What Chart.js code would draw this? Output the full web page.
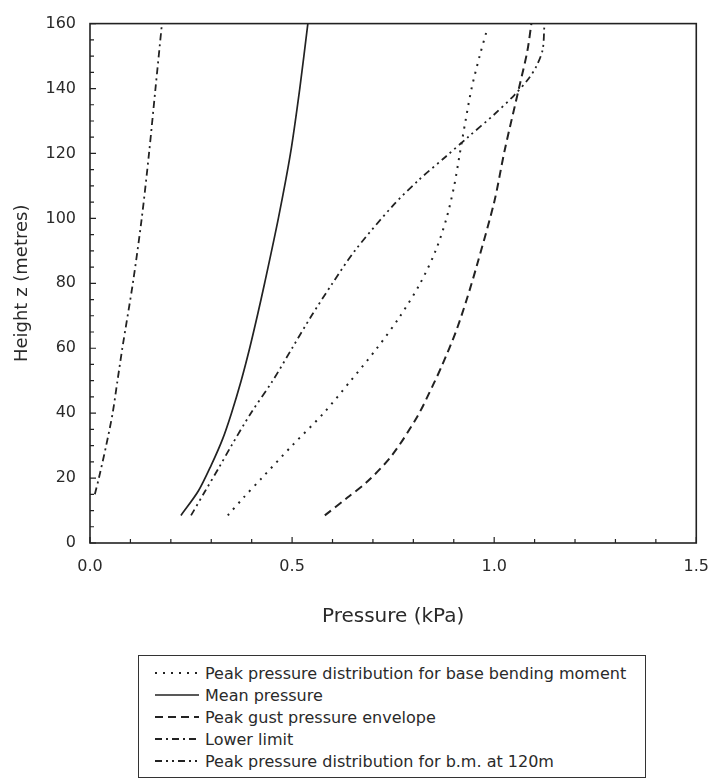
<!DOCTYPE html>
<html>
<head>
<meta charset="utf-8">
<script src="https://cdn.jsdelivr.net/npm/chart.js@4.4.1/dist/chart.umd.min.js"></script>
<style>
  html, body { margin: 0; padding: 0; background: #fff; }
  #wrap { position: relative; width: 723px; height: 781px; overflow: hidden; }
  #chart { position: absolute; left: 0; top: 0; }
  #legend {
    position: absolute; left: 138px; top: 655px; width: 508px; height: 123px;
    border: 1.5px solid #333; box-sizing: border-box; padding-top: 6px;
    font-family: "DejaVu Sans", sans-serif; font-size: 16px; color: #2a2a2a;
  }
  .row { height: 22px; display: flex; align-items: center; white-space: nowrap; }
  .row svg { margin-left: 16px; margin-right: 6px; flex: none; }
</style>
</head>
<body>
<div id="wrap">
  <canvas id="chart" width="723" height="650"></canvas>
  <div id="legend"></div>
</div>
<script>
// values: height z (m) and pressure (kPa)
const seriesNames = [
  'Peak pressure distribution for base bending moment',
  'Mean pressure',
  'Peak gust pressure envelope',
  'Lower limit',
  'Peak pressure distribution for b.m. at 120m'
];

const zBase = [8.5, 14, 20, 30, 40, 50, 60, 70, 80, 90, 100, 110, 120, 130, 140, 150, 158];
const pBase = [0.341, 0.38, 0.425, 0.5, 0.578, 0.645, 0.71, 0.768, 0.817, 0.855, 0.882, 0.901, 0.915, 0.929, 0.944, 0.964, 0.982];

const zMean = [8.5, 16, 24, 32, 40, 50, 60, 70, 80, 100, 120, 140, 160];
const pMean = [0.225, 0.268, 0.3, 0.328, 0.35, 0.374, 0.395, 0.414, 0.432, 0.466, 0.496, 0.519, 0.539];

const zGust = [8.5, 14, 19, 27, 39, 49, 55, 65, 75, 85, 105, 121, 141, 151.5, 160];
const pGust = [0.581, 0.637, 0.687, 0.747, 0.81, 0.85, 0.872, 0.905, 0.932, 0.956, 1.0, 1.026, 1.063, 1.082, 1.092];

const zLower = [15, 20, 30, 40, 50, 60, 80, 100, 120, 140, 160];
const pLower = [0.012, 0.022, 0.04, 0.056, 0.068, 0.08, 0.106, 0.128, 0.146, 0.162, 0.178];

const z120 = [8.5, 16, 23, 30, 40, 50, 60, 70, 80, 90, 104, 112, 119, 125, 132, 138, 143, 147, 152, 159];
const p120 = [0.25, 0.285, 0.318, 0.35, 0.398, 0.452, 0.5, 0.548, 0.6, 0.655, 0.75, 0.815, 0.88, 0.935, 1.0, 1.05, 1.085, 1.105, 1.12, 1.124];

const xTicks = [0, 0.5, 1.0, 1.5];
const yTicks = [0, 20, 40, 60, 80, 100, 120, 140, 160];

const ink = '#222';
const font = '"DejaVu Sans", sans-serif';

const pts = (zs, ps) => zs.map((z, i) => ({ x: ps[i], y: z }));

const dashes = [[2, 6], [], [8, 5], [7, 4, 2, 4], [7, 4, 2, 4, 2, 4]];
const widths = [2, 1.7, 2, 1.8, 1.8];
const series = [pts(zBase, pBase), pts(zMean, pMean), pts(zGust, pGust), pts(zLower, pLower), pts(z120, p120)];

// box round the plot with small inward ticks
const frame = {
  id: 'frame',
  afterDatasetsDraw(chart) {
    const { ctx, chartArea: a, scales: { x, y } } = chart;
    ctx.save();
    ctx.strokeStyle = ink;
    ctx.lineWidth = 1.6;
    ctx.strokeRect(a.left, a.top, a.right - a.left, a.bottom - a.top);
    ctx.lineWidth = 1.2;
    ctx.beginPath();
    for (let v = 0; v <= 160; v += 5) {
      const py = y.getPixelForValue(v);
      ctx.moveTo(a.left, py);
      ctx.lineTo(a.left + (v % 20 === 0 ? 6 : 4), py);
    }
    for (let i = 0; i <= 15; i++) {
      const px = x.getPixelForValue(i / 10);
      ctx.moveTo(px, a.bottom);
      ctx.lineTo(px, a.bottom - (i % 5 === 0 ? 6 : 4));
    }
    ctx.stroke();
    ctx.restore();
  }
};

new Chart(document.getElementById('chart').getContext('2d'), {
  type: 'line',
  data: {
    datasets: series.map((data, i) => ({
      label: seriesNames[i],
      data: data,
      borderColor: ink,
      borderWidth: widths[i],
      borderDash: dashes[i],
      pointRadius: 0,
      tension: 0.3,
      fill: false
    }))
  },
  options: {
    responsive: false,
    animation: false,
    devicePixelRatio: 1,
    layout: { padding: { top: 15, right: 26, left: 0, bottom: 0 } },
    plugins: { legend: { display: false }, tooltip: { enabled: false } },
    scales: {
      x: {
        type: 'linear',
        min: 0,
        max: 1.5,
        afterBuildTicks: s => { s.ticks = xTicks.map(v => ({ value: v })); },
        afterFit: s => { s.height = 107; },
        grid: { display: false, drawTicks: false },
        border: { display: false },
        ticks: {
          color: '#2a2a2a', padding: 14,
          font: { family: font, size: 16 },
          callback: v => v.toFixed(1)
        },
        title: {
          display: true, text: 'Pressure (kPa)', color: '#2a2a2a',
          font: { family: font, size: 20 }, padding: { bottom: 21 }
        }
      },
      y: {
        min: 0,
        max: 160,
        afterBuildTicks: s => { s.ticks = yTicks.map(v => ({ value: v })); },
        afterFit: s => { s.width = 90; },
        grid: { display: false, drawTicks: false },
        border: { display: false },
        ticks: {
          color: '#2a2a2a', padding: 14,
          font: { family: font, size: 16 }
        },
        title: {
          display: true, text: 'Height z (metres)', color: '#2a2a2a',
          font: { family: font, size: 18 }, padding: { top: 12 }
        }
      }
    }
  },
  plugins: [frame]
});

// legend box below the chart
const legend = document.getElementById('legend');
seriesNames.forEach((name, i) => {
  const row = document.createElement('div');
  row.className = 'row';
  const dash = dashes[i].length ? dashes[i].join(' ') : 'none';
  row.innerHTML = '<svg width="44" height="8"><line x1="0" y1="4" x2="44" y2="4" stroke="' + ink +
    '" stroke-width="' + widths[i] + '" stroke-dasharray="' + dash + '"/></svg><span></span>';
  row.querySelector('span').textContent = name;
  legend.appendChild(row);
});
</script>
</body>
</html>
